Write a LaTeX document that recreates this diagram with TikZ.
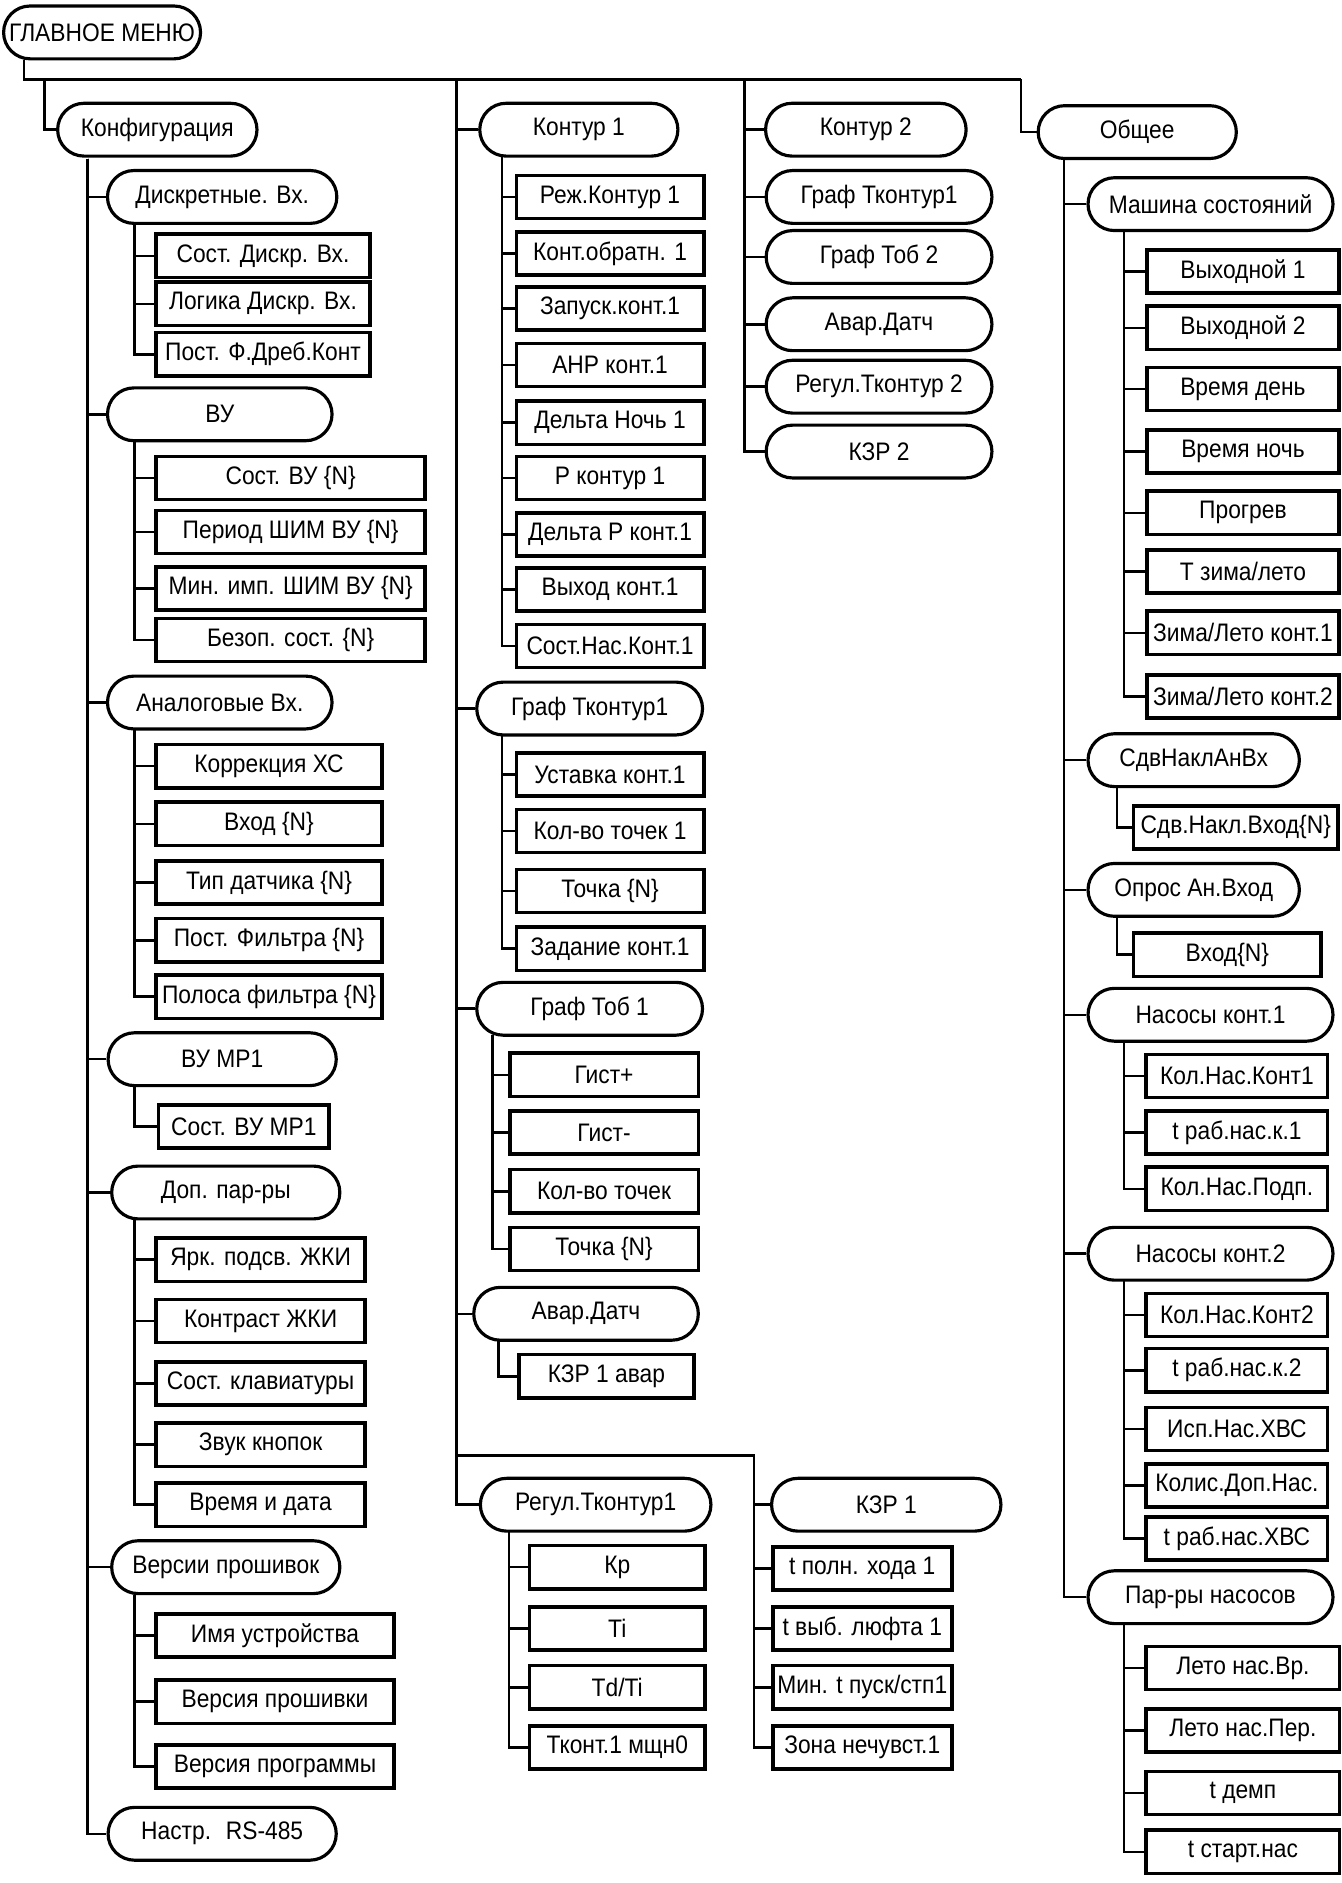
\documentclass[tikz,border=0pt]{standalone}
\usepackage{fontspec}
\setmainfont{Liberation Sans}[FakeStretch=0.9]
\begin{document}
\begin{tikzpicture}[x=0.02cm,y=-0.02cm,line width=1.2pt,
  every node/.style={font=\fontsize{12}{14}\selectfont,inner sep=0pt},
  pill/.style={draw,line width=1.5pt,rounded corners=0.44cm,minimum height=0.88cm},
  leaf/.style={draw,line width=1.7pt,minimum height=0.72cm},
  wd/.style={minimum width=#1*0.02cm}]
\useasboundingbox (0,0) rectangle (1117,1568);
% main menu
\node[pill,wd=164] (root) at (85,27) {ГЛАВНОЕ МЕНЮ};
\coordinate (r0) at (20,66);
\coordinate (c1) at (37,66);
\coordinate (c2) at (380,66);
\coordinate (c3) at (620,66);
\coordinate (c4) at (850,66);
\draw (root.south -| r0) -- (r0) -- (c4);

% column 1
\node[pill,wd=166] (konf)   at (131,108)  {Конфигурация};
\node[pill,wd=191] (diskr)  at (185,164)  {Дискретные. Вх.};
\node[leaf,wd=178] (dsk1)   at (219,213)  {Сост. Дискр. Вх.};
\node[leaf,wd=178] (dsk2)   at (219,253)  {Логика Дискр. Вх.};
\node[leaf,wd=178] (dsk3)   at (219,295)  {Пост. Ф.Дреб.Конт};
\node[pill,wd=187] (vu)     at (183,345)  {ВУ};
\node[leaf,wd=224] (vu1)    at (242,398)  {Сост. ВУ \{N\}};
\node[leaf,wd=224] (vu2)    at (242,443)  {Период ШИМ ВУ \{N\}};
\node[leaf,wd=224] (vu3)    at (242,490)  {Мин. имп. ШИМ ВУ \{N\}};
\node[leaf,wd=224] (vu4)    at (242,533)  {Безоп. сост. \{N\}};
\node[pill,wd=187] (analog) at (183,585)  {Аналоговые Вх.};
\node[leaf,wd=188] (an1)    at (224,638)  {Коррекция ХС};
\node[leaf,wd=188] (an2)    at (224,686)  {Вход \{N\}};
\node[leaf,wd=188] (an3)    at (224,735)  {Тип датчика \{N\}};
\node[leaf,wd=188] (an4)    at (224,783)  {Пост. Фильтра \{N\}};
\node[leaf,wd=188] (an5)    at (224,830)  {Полоса фильтра \{N\}};
\node[pill,wd=190] (vump)   at (185,882)  {ВУ МР1};
\node[leaf,wd=142] (vump1)  at (203,938)  {Сост. ВУ МР1};
\node[pill,wd=190] (dop)    at (188,993)  {Доп. пар-ры};
\node[leaf,wd=174] (dop1)   at (217,1049) {Ярк. подсв. ЖКИ};
\node[leaf,wd=174] (dop2)   at (217,1100) {Контраст ЖКИ};
\node[leaf,wd=174] (dop3)   at (217,1152) {Сост. клавиатуры};
\node[leaf,wd=174] (dop4)   at (217,1203) {Звук кнопок};
\node[leaf,wd=174] (dop5)   at (217,1253) {Время и дата};
\node[pill,wd=190] (vers)   at (188,1305) {Версии прошивок};
\node[leaf,wd=198] (ver1)   at (229,1362) {Имя устройства};
\node[leaf,wd=198] (ver2)   at (229,1417) {Версия прошивки};
\node[leaf,wd=198] (ver3)   at (229,1471) {Версия программы};
\node[pill,wd=190] (rs)     at (185,1527) {Настр.~ RS-485};

\coordinate (k1) at (73,132);
\coordinate (s11) at (112,185);
\coordinate (s12) at (112,368);
\coordinate (s13) at (112,607);
\coordinate (s14) at (112,905);
\coordinate (s15) at (112,1016);
\coordinate (s16) at (112,1328);
\draw (c1) |- (konf.west);
\foreach \c in {diskr,vu,analog,vump,dop,vers,rs} \draw (k1) |- (\c.west);
\foreach \c in {dsk1,dsk2,dsk3} \draw (s11) |- (\c.west);
\foreach \c in {vu1,vu2,vu3,vu4} \draw (s12) |- (\c.west);
\foreach \c in {an1,an2,an3,an4,an5} \draw (s13) |- (\c.west);
\draw (s14) |- (vump1.west);
\foreach \c in {dop1,dop2,dop3,dop4,dop5} \draw (s15) |- (\c.west);
\foreach \c in {ver1,ver2,ver3} \draw (s16) |- (\c.west);

% column 2
\node[pill,wd=165] (kont1) at (482,108) {Контур 1};
\node[leaf,wd=156] (k1a) at (508,164) {Реж.Контур 1};
\node[leaf,wd=156] (k1b) at (508,211) {Конт.обратн. 1};
\node[leaf,wd=156] (k1c) at (508,257) {Запуск.конт.1};
\node[leaf,wd=156] (k1d) at (508,304) {АНР конт.1};
\node[leaf,wd=156] (k1e) at (508,352) {Дельта Ночь 1};
\node[leaf,wd=156] (k1f) at (508,398) {Р контур 1};
\node[leaf,wd=156] (k1g) at (508,445) {Дельта Р конт.1};
\node[leaf,wd=156] (k1h) at (508,491) {Выход конт.1};
\node[leaf,wd=156] (k1i) at (508,538) {Сост.Нас.Конт.1};
\node[pill,wd=188] (graf1) at (491,590) {Граф Тконтур1};
\node[leaf,wd=156] (g1a) at (508,645) {Уставка конт.1};
\node[leaf,wd=156] (g1b) at (508,692) {Кол-во точек 1};
\node[leaf,wd=156] (g1c) at (508,742) {Точка \{N\}};
\node[leaf,wd=156] (g1d) at (508,790) {Задание конт.1};
\node[pill,wd=188] (tob1) at (491,840) {Граф Тоб 1};
\node[leaf,wd=157] (t1a) at (503,895)  {Гист+};
\node[leaf,wd=157] (t1b) at (503,943)  {Гист-};
\node[leaf,wd=157] (t1c) at (503,992)  {Кол-во точек};
\node[leaf,wd=157] (t1d) at (503,1040) {Точка \{N\}};
\node[pill,wd=187] (avar1) at (488,1094) {Авар.Датч};
\node[leaf,wd=146] (av1) at (505,1146) {КЗР 1 авар};
\node[pill,wd=192] (reg1) at (496,1253) {Регул.Тконтур1};
\node[leaf,wd=146] (r1a) at (514,1305) {Кр};
\node[leaf,wd=146] (r1b) at (514,1356) {Ti};
\node[leaf,wd=146] (r1c) at (514,1405) {Td/Ti};
\node[leaf,wd=146] (r1d) at (514,1455) {Тконт.1 мщн0};
\node[pill,wd=191] (kzr1) at (738,1253) {КЗР 1};
\node[leaf,wd=149] (z1a) at (718,1306) {t полн. хода 1};
\node[leaf,wd=149] (z1b) at (718,1356) {t выб. люфта 1};
\node[leaf,wd=149] (z1c) at (718,1405) {Мин. t пуск/стп1};
\node[leaf,wd=149] (z1d) at (718,1455) {Зона нечувст.1};

\coordinate (s21) at (418,130);
\coordinate (s22) at (418,612);
\coordinate (s23) at (410,862);
\coordinate (s24) at (415,1116);
\coordinate (s25) at (424,1275);
\coordinate (b2) at (380,1212);
\coordinate (z0) at (628,1212);
\draw (c2) |- (reg1.west);
\foreach \c in {kont1,graf1,tob1,avar1} \draw (c2) |- (\c.west);
\foreach \c in {k1a,k1b,k1c,k1d,k1e,k1f,k1g,k1h,k1i} \draw (s21) |- (\c.west);
\foreach \c in {g1a,g1b,g1c,g1d} \draw (s22) |- (\c.west);
\foreach \c in {t1a,t1b,t1c,t1d} \draw (s23) |- (\c.west);
\draw (s24) |- (av1.west);
\foreach \c in {r1a,r1b,r1c,r1d} \draw (s25) |- (\c.west);
\draw (b2) -- (z0) |- (kzr1.west);
\foreach \c in {z1a,z1b,z1c,z1d} \draw (z0) |- (\c.west);

% column 3
\node[pill,wd=167] (kont2)  at (721,108) {Контур 2};
\node[pill,wd=188] (grafk2) at (732,164) {Граф Тконтур1};
\node[pill,wd=188] (tob2)   at (732,214) {Граф Тоб 2};
\node[pill,wd=188] (avar2)  at (732,270) {Авар.Датч};
\node[pill,wd=188] (reg2)   at (732,322) {Регул.Тконтур 2};
\node[pill,wd=188] (kzr2)   at (732,376) {КЗР 2};
\foreach \c in {kont2,grafk2,tob2,avar2,reg2,kzr2} \draw (c3) |- (\c.west);

% column 4
\node[pill,wd=165] (obsh)  at (947,110) {Общее};
\node[pill,wd=204] (mash)  at (1008,170) {Машина состояний};
\node[leaf,wd=160] (m1) at (1035,226) {Выходной 1};
\node[leaf,wd=160] (m2) at (1035,273) {Выходной 2};
\node[leaf,wd=160] (m3) at (1035,324) {Время день};
\node[leaf,wd=160] (m4) at (1035,376) {Время ночь};
\node[leaf,wd=160] (m5) at (1035,427) {Прогрев};
\node[leaf,wd=160] (m6) at (1035,476) {Т зима/лето};
\node[leaf,wd=160] (m7) at (1035,527) {Зима/Лето конт.1};
\node[leaf,wd=160] (m8) at (1035,580) {Зима/Лето конт.2};
\node[pill,wd=176] (sdv)   at (994,633) {СдвНаклАнВх};
\node[leaf,wd=170] (sdv1)  at (1029,689) {Сдв.Накл.Вход\{N\}};
\node[pill,wd=176] (opros) at (994,741) {Опрос Ан.Вход};
\node[leaf,wd=156] (op1)   at (1022,795) {Вход\{N\}};
\node[pill,wd=204] (nas1)  at (1008,845) {Насосы конт.1};
\node[leaf,wd=151] (n1a) at (1030,896) {Кол.Нас.Конт1};
\node[leaf,wd=151] (n1b) at (1030,943) {t раб.нас.к.1};
\node[leaf,wd=151] (n1c) at (1030,990) {Кол.Нас.Подп.};
\node[pill,wd=204] (nas2)  at (1008,1044) {Насосы конт.2};
\node[leaf,wd=151] (n2a) at (1030,1095) {Кол.Нас.Конт2};
\node[leaf,wd=151] (n2b) at (1030,1141) {t раб.нас.к.2};
\node[leaf,wd=151] (n2c) at (1030,1190) {Исп.Нас.ХВС};
\node[leaf,wd=151] (n2d) at (1030,1237) {Колис.Доп.Нас.};
\node[leaf,wd=151] (n2e) at (1030,1281) {t раб.нас.ХВС};
\node[pill,wd=204] (parn)  at (1008,1330) {Пар-ры насосов};
\node[leaf,wd=161] (p1) at (1035,1389) {Лето нас.Вр.};
\node[leaf,wd=161] (p2) at (1035,1441) {Лето нас.Пер.};
\node[leaf,wd=161] (p3) at (1035,1493) {t демп};
\node[leaf,wd=161] (p4) at (1035,1542) {t старт.нас};

\coordinate (k4)  at (886,133);
\coordinate (s41) at (936,193);
\coordinate (s42) at (930,656);
\coordinate (s43) at (930,764);
\coordinate (s44) at (936,868);
\coordinate (s45) at (936,1066);
\coordinate (s46) at (936,1352);
\draw (c4) |- (obsh.west);
\foreach \c in {mash,sdv,opros,nas1,nas2,parn} \draw (k4) |- (\c.west);
\foreach \c in {m1,m2,m3,m4,m5,m6,m7,m8} \draw (s41) |- (\c.west);
\draw (s42) |- (sdv1.west);
\draw (s43) |- (op1.west);
\foreach \c in {n1a,n1b,n1c} \draw (s44) |- (\c.west);
\foreach \c in {n2a,n2b,n2c,n2d,n2e} \draw (s45) |- (\c.west);
\foreach \c in {p1,p2,p3,p4} \draw (s46) |- (\c.west);
\end{tikzpicture}
\end{document}
